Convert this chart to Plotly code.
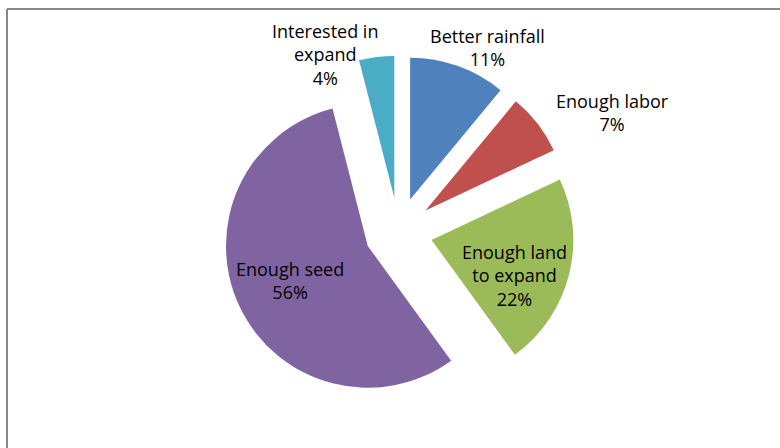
import plotly.graph_objects as go

# Reasons for expanding production (share of respondents)
categories = ["Better rainfall", "Enough labor", "Enough land to expand",
              "Enough seed", "Interested in expand"]
label_lines = ["Better rainfall", "Enough labor", "Enough land<br>to expand",
               "Enough seed", "Interested in<br>expand"]
shares = [11, 7, 22, 56, 4]

colors = ["#4F81BD", "#C0504D", "#9BBB59", "#8064A2", "#4BACC6"]

# Data-label anchor points (paper fraction), one per slice
label_x = [0.625, 0.785, 0.660, 0.372, 0.417]
label_y = [0.893, 0.750, 0.386, 0.375, 0.879]

W, H = 780, 448

fig = go.Figure(
    go.Pie(
        labels=categories,
        values=shares,
        textinfo="none",
        sort=False,
        direction="clockwise",
        rotation=0,
        pull=[0.24] * len(shares),
        marker=dict(colors=colors, line=dict(width=0)),
        hoverinfo="label+percent",
        showlegend=False,
        automargin=False,
        domain=dict(x=[0.2855, 0.7365], y=[0.0908, 0.8758]),
    )
)

total = sum(shares)
for txt, v, lx, ly in zip(label_lines, shares, label_x, label_y):
    fig.add_annotation(
        x=lx, y=ly, xref="paper", yref="paper",
        xanchor="center", yanchor="middle",
        text=f"{txt}<br>{round(100 * v / total)}%",
        showarrow=False, align="center",
        font=dict(family="Open Sans, sans-serif", size=18, color="#000000"),
    )

# Chart-area frame (top and left edges visible)
fig.add_shape(type="line", xref="paper", yref="paper",
              x0=0.009, y0=0.98, x1=1.0, y1=0.98,
              line=dict(color="#878787", width=2))
fig.add_shape(type="line", xref="paper", yref="paper",
              x0=0.009, y0=0.0, x1=0.009, y1=0.98,
              line=dict(color="#878787", width=2))

fig.update_layout(
    width=W,
    height=H,
    margin=dict(l=0, r=0, t=0, b=0, pad=0, autoexpand=False),
    showlegend=False,
    paper_bgcolor="#FFFFFF",
    plot_bgcolor="#FFFFFF",
)

fig.write_html("out.html")
